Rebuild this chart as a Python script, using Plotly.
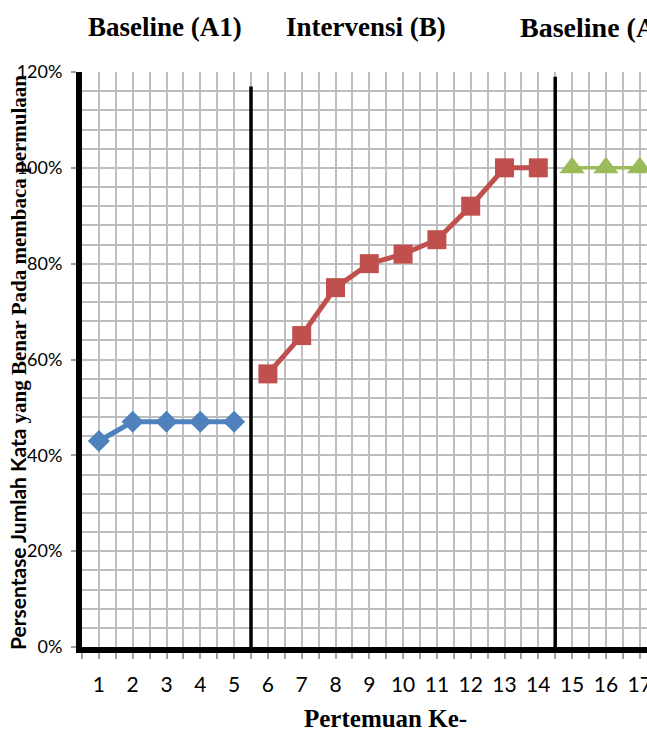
import plotly.graph_objects as go

# ---- data ----
x_a1 = [1, 2, 3, 4, 5]
y_a1 = [0.43, 0.47, 0.47, 0.47, 0.47]
x_b = [6, 7, 8, 9, 10, 11, 12, 13, 14]
y_b = [0.57, 0.65, 0.75, 0.80, 0.82, 0.85, 0.92, 1.00, 1.00]
x_a2 = [15, 16, 17]
y_a2 = [1.00, 1.00, 1.00]
phase_boundaries = [5.5, 14.5]
phase_titles = ["Baseline (A1)", "Intervensi (B)", "Baseline (A2)"]
x_ticks = list(range(1, 18))
y_ticks = [0, 0.2, 0.4, 0.6, 0.8, 1.0, 1.2]

W, H = 647, 733
L, T, B = 82, 72, 86
plot_w = W - L
plot_h = H - T - B
px_per_cat = 33.8
x_max = 0.5 + plot_w / px_per_cat

def px_to_paper_x(px):
    return (px - L) / plot_w

def px_to_paper_y(py):
    return (H - B - py) / plot_h

serif = "Liberation Serif, Times New Roman, serif"
sans = "Lato, Carlito, Calibri, Noto Sans, sans-serif"

fig = go.Figure()
fig.add_trace(go.Scatter(x=x_a1, y=y_a1, mode="lines+markers",
                         line=dict(color="#4F81BD", width=5),
                         marker=dict(symbol="diamond", size=17, color="#4F81BD"),
                         showlegend=False))
fig.add_trace(go.Scatter(x=x_b, y=y_b, mode="lines+markers",
                         line=dict(color="#C0504D", width=5),
                         marker=dict(symbol="square", size=19, color="#C0504D"),
                         showlegend=False))
fig.add_trace(go.Scatter(x=x_a2, y=y_a2, mode="lines+markers",
                         line=dict(color="#9BBB59", width=3.5),
                         marker=dict(symbol="triangle-up", size=22, color="#9BBB59"),
                         showlegend=False))

grid_c = "#BEBEBE"
fig.update_xaxes(range=[0.5, x_max], tickmode="array", tickvals=x_ticks,
                 ticktext=[str(v) for v in x_ticks], automargin=False,
                 showgrid=True, gridcolor=grid_c, gridwidth=1.5,
                 ticks="", ticklabelstandoff=14, ticklabeloverflow="allow",
                 tickfont=dict(family=sans, size=21, color="black"),
                 minor=dict(dtick=0.5, tick0=0.5, showgrid=True, gridcolor=grid_c,
                            gridwidth=1.5, ticks="outside", ticklen=6,
                            tickcolor="#A0A0A0", tickwidth=1.5),
                 showline=True, linecolor="black", linewidth=6, zeroline=False)
fig.update_yaxes(range=[0, 1.2], tickmode="array", tickvals=y_ticks,
                 ticktext=[f"{int(round(v*100))}%" for v in y_ticks], automargin=False,
                 showgrid=True, gridcolor=grid_c, gridwidth=1.5,
                 ticks="outside", ticklen=5, tickcolor="#A0A0A0", tickwidth=1.5,
                 ticklabelstandoff=5,
                 tickfont=dict(family=sans, size=18, color="black"),
                 minor=dict(dtick=0.04, tick0=0, showgrid=True, gridcolor=grid_c,
                            gridwidth=1.5),
                 showline=True, linecolor="black", linewidth=6, zeroline=False)

# phase separator lines
seps = [(phase_boundaries[0], -0.027, 1.17), (phase_boundaries[1], -0.021, 1.19)]
for xv, y0, y1 in seps:
    fig.add_shape(type="line", xref="x", yref="y", x0=xv, x1=xv, y0=y0, y1=y1,
                  line=dict(color="black", width=3.5), layer="above")

# phase titles
title_pos = [(165, "center", 27), (366, "center", 27), (518, "left", 28)]
for txt, (px, anc, fs) in zip(phase_titles, title_pos):
    fig.add_annotation(text=f"<b>{txt}</b>", xref="paper", yref="paper",
                       x=px_to_paper_x(px), y=px_to_paper_y(27), xanchor=anc,
                       yanchor="middle", showarrow=False,
                       font=dict(family=serif, size=fs, color="black"))

# axis titles
fig.add_annotation(text="<b>Pertemuan Ke-</b>", xref="paper", yref="paper",
                   x=px_to_paper_x(385), y=px_to_paper_y(718), showarrow=False,
                   xanchor="center", yanchor="middle",
                   font=dict(family=serif, size=25, color="black"))
ytitle = ("<span style=\"font-family:Lato, Carlito, sans-serif\"><b>Persentase Jumlah Kata </b></span>"
          "<b>yang Benar Pada membaca permulaan</b>")
fig.add_annotation(text=ytitle, xref="paper", yref="paper",
                   x=px_to_paper_x(18), y=px_to_paper_y(363), textangle=-90,
                   showarrow=False, xanchor="center", yanchor="middle",
                   font=dict(family=serif, size=21, color="black"))

fig.update_layout(width=W, height=H,
                  margin=dict(l=L, r=0, t=T, b=B, autoexpand=False),
                  plot_bgcolor="white", paper_bgcolor="white")

fig.write_html("out.html", config={"displayModeBar": False},
               post_script="document.body.style.margin='0';document.body.style.overflow='hidden';")
